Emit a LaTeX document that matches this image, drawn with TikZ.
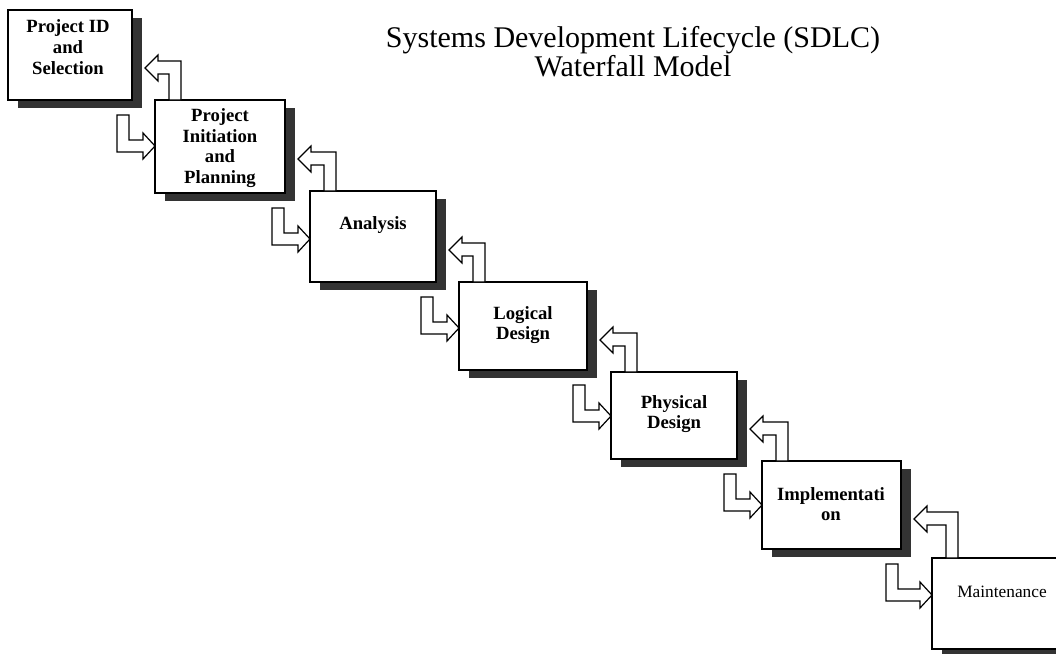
\documentclass[tikz,border=0pt]{standalone}
\usepackage{fontspec}
\setmainfont{Liberation Serif}
\usetikzlibrary{calc}
\tikzset{
  boxshape/.style={draw=black, line width=1.1pt, fill=white, inner sep=0pt, outer sep=0pt},
  shadowfill/.style={fill=black!80},
  blockarrow/.style={draw=black, line width=0.9pt, fill=white, line join=miter},
  boxtext/.style={align=center, inner sep=0pt, font=\fontsize{14}{15.5}\selectfont\bfseries},
  plaintext/.style={align=center, inner sep=0pt, font=\fontsize{13}{15}\selectfont},
  titletext/.style={align=center, inner sep=0pt, font=\fontsize{22.5}{19}\selectfont},
}
% name, left, top, right, bottom (pixel units, y downwards)
\newcommand{\sdlcbox}[5]{%
  \fill[shadowfill] ({#2+10},{#3+8}) rectangle ({#4+10},{#5+8});
  \node[boxshape, minimum width={(#4-#2)*0.75pt}, minimum height={(#5-#3)*0.75pt}] (#1) at ({(#2+#4)/2},{(#3+#5)/2}) {};
}
% forward arrow: source box, target box, shaft x shift
\newcommand{\fwdarrow}[3]{%
  \coordinate (fa) at (#2.west |- #1.south);
  \draw[blockarrow] ($(fa)+({-38+(#3)},15)$) -- ($(fa)+({-26+(#3)},15)$)
    -- ($(fa)+({-26+(#3)},40)$) -- ($(fa)+(-12,40)$) -- ($(fa)+(-12,33)$)
    -- ($(fa)+(0,46)$) -- ($(fa)+(-12,59)$) -- ($(fa)+(-12,52)$)
    -- ($(fa)+({-38+(#3)},52)$) -- cycle;
}
% back arrow: source (lower) box, target (upper) box, y shift
\newcommand{\backarrow}[3]{%
  \coordinate (ba) at (#1.north west);
  \coordinate (bh) at (#2.east |- #1.north);
  \draw[blockarrow] ($(ba)+(26,0)$) -- ($(ba)+(26,{-39+(#3)})$)
    -- ($(bh)+(26,{-39+(#3)})$) -- ($(bh)+(26,{-45+(#3)})$)
    -- ($(bh)+(13,{-32+(#3)})$) -- ($(bh)+(26,{-19+(#3)})$)
    -- ($(bh)+(26,{-26+(#3)})$) -- ($(ba)+(14,{-26+(#3)})$)
    -- ($(ba)+(14,0)$) -- cycle;
}
\begin{document}
\begin{tikzpicture}[x=0.75pt,y=-0.75pt]
\useasboundingbox (0,0) rectangle (1056,653);
\fill[white] (0,0) rectangle (1056,653);
\clip (0,0) rectangle (1056,653);

\sdlcbox{b1}{8}{10}{132}{100}
\sdlcbox{b2}{155}{100}{285}{193}
\sdlcbox{b3}{310}{191}{436}{282}
\sdlcbox{b4}{459}{282}{587}{370}
\sdlcbox{b5}{611}{372}{737}{459}
\sdlcbox{b6}{762}{461}{901}{549}
\sdlcbox{b7}{932}{558}{1075}{649}

\node[boxtext] (t1) at (68,47) {Project ID\\and\\Selection};
\node[boxtext] (t2) at (220,148) {Project\\Initiation\\and\\Planning};
\node[boxtext] (t3) at (373,225) {Analysis};
\node[boxtext] (t4) at (523,325) {Logical\\Design};
\node[boxtext] (t5) at (674,414) {Physical\\Design};
\node[boxtext] (t6) at (831,504) {Implementati\\on};
\node[plaintext] (t7) at (1002,592) {Maintenance};

\node[titletext, anchor=north] (title) at (633,26) {Systems Development Lifecycle (SDLC)\\Waterfall Model};

\fwdarrow{b1}{b2}{0}
\fwdarrow{b2}{b3}{0}
\fwdarrow{b3}{b4}{0}
\fwdarrow{b4}{b5}{0}
\fwdarrow{b5}{b6}{0}
\fwdarrow{b6}{b7}{-8}

\backarrow{b2}{b1}{0}
\backarrow{b3}{b2}{0}
\backarrow{b4}{b3}{0}
\backarrow{b5}{b4}{0}
\backarrow{b6}{b5}{0}
\backarrow{b7}{b6}{-7}
\end{tikzpicture}
\end{document}
